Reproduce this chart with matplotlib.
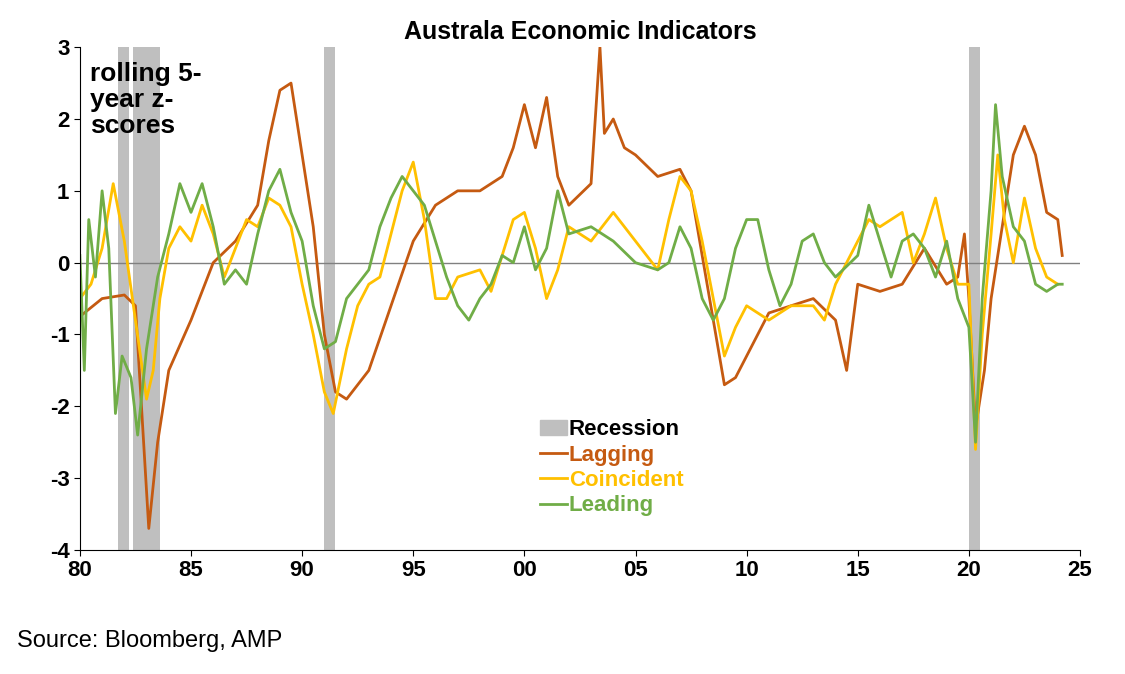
import matplotlib.pyplot as plt
from matplotlib.patches import Patch
from matplotlib.lines import Line2D

lag_x = [1980, 1981, 1982, 1982.5, 1983.1, 1983.5, 1984, 1985, 1986, 1987, 1988, 1988.5, 1989, 1989.5, 1990, 1990.5,
         1991, 1991.5, 1992, 1993, 1994, 1995, 1996, 1997, 1998, 1999, 1999.5, 2000, 2000.5, 2001, 2001.5, 2002,
         2003, 2003.4, 2003.6, 2004, 2004.5, 2005, 2006, 2007, 2007.5, 2008, 2008.5, 2009, 2009.5, 2010, 2011,
         2012, 2013, 2014, 2014.5, 2015, 2016, 2017, 2018, 2019, 2019.5, 2019.8, 2020, 2020.3, 2020.7, 2021,
         2021.5, 2022, 2022.5, 2023, 2023.5, 2024, 2024.2]
lag_y = [-0.75, -0.5, -0.45, -0.6, -3.7, -2.5, -1.5, -0.8, 0, 0.3, 0.8, 1.7, 2.4, 2.5, 1.5, 0.5,
         -1.0, -1.8, -1.9, -1.5, -0.6, 0.3, 0.8, 1.0, 1.0, 1.2, 1.6, 2.2, 1.6, 2.3, 1.2, 0.8,
         1.1, 3.0, 1.8, 2.0, 1.6, 1.5, 1.2, 1.3, 1.0, 0.1, -0.8, -1.7, -1.6, -1.3, -0.7,
         -0.6, -0.5, -0.8, -1.5, -0.3, -0.4, -0.3, 0.2, -0.3, -0.2, 0.4, -0.5, -2.3, -1.5, -0.5,
         0.5, 1.5, 1.9, 1.5, 0.7, 0.6, 0.1]

coin_x = [1980, 1980.5, 1981, 1981.5, 1982, 1982.5, 1983, 1983.3, 1983.6, 1984, 1984.5, 1985, 1985.5, 1986, 1986.5,
          1987, 1987.5, 1988, 1988.5, 1989, 1989.5, 1990, 1990.5, 1991, 1991.4, 1992, 1992.5, 1993, 1993.5, 1994,
          1994.5, 1995, 1995.5, 1996, 1996.5, 1997, 1998, 1998.5, 1999, 1999.5, 2000, 2000.5, 2001, 2001.5, 2002,
          2003, 2004, 2005, 2006, 2006.5, 2007, 2007.5, 2008, 2008.5, 2009, 2009.5, 2010, 2011, 2012, 2013,
          2013.5, 2014, 2015, 2015.5, 2016, 2017, 2017.5, 2018, 2018.5, 2019, 2019.5, 2020, 2020.3, 2020.6, 2021,
          2021.3, 2021.6, 2022, 2022.5, 2023, 2023.5, 2024]
coin_y = [-0.5, -0.3, 0.2, 1.1, 0.3, -0.8, -1.9, -1.5, -0.5, 0.2, 0.5, 0.3, 0.8, 0.4, -0.2,
          0.2, 0.6, 0.5, 0.9, 0.8, 0.5, -0.3, -1.0, -1.8, -2.1, -1.2, -0.6, -0.3, -0.2, 0.4,
          1.0, 1.4, 0.6, -0.5, -0.5, -0.2, -0.1, -0.4, 0.1, 0.6, 0.7, 0.2, -0.5, -0.1, 0.5,
          0.3, 0.7, 0.3, -0.1, 0.6, 1.2, 1.0, 0.3, -0.5, -1.3, -0.9, -0.6, -0.8, -0.6, -0.6,
          -0.8, -0.3, 0.3, 0.6, 0.5, 0.7, 0.0, 0.4, 0.9, 0.2, -0.3, -0.3, -2.6, -1.0, 0.4,
          1.5, 0.6, 0.0, 0.9, 0.2, -0.2, -0.3]

lead_x = [1980, 1980.2, 1980.4, 1980.7, 1981, 1981.3, 1981.6, 1981.9, 1982.3, 1982.6, 1983, 1983.5, 1984, 1984.5,
          1985, 1985.5, 1986, 1986.5, 1987, 1987.5, 1988, 1988.5, 1989, 1989.5, 1990, 1990.5, 1991, 1991.5, 1992,
          1993, 1993.5, 1994, 1994.5, 1995, 1995.5, 1996, 1996.5, 1997, 1997.5, 1998, 1998.5, 1999, 1999.5, 2000,
          2000.5, 2001, 2001.5, 2002, 2003, 2004, 2005, 2006, 2006.5, 2007, 2007.5, 2008, 2008.5, 2009, 2009.5,
          2010, 2010.5, 2011, 2011.5, 2012, 2012.5, 2013, 2013.5, 2014, 2015, 2015.5, 2016, 2016.5, 2017, 2017.5,
          2018, 2018.5, 2019, 2019.5, 2020, 2020.3, 2020.6, 2021, 2021.2, 2021.5, 2022, 2022.5, 2023, 2023.5,
          2024, 2024.2]
lead_y = [0.1, -1.5, 0.6, -0.2, 1.0, 0.2, -2.1, -1.3, -1.6, -2.4, -1.2, -0.2, 0.4, 1.1,
          0.7, 1.1, 0.5, -0.3, -0.1, -0.3, 0.4, 1.0, 1.3, 0.7, 0.3, -0.6, -1.2, -1.1, -0.5,
          -0.1, 0.5, 0.9, 1.2, 1.0, 0.8, 0.3, -0.2, -0.6, -0.8, -0.5, -0.3, 0.1, 0.0, 0.5,
          -0.1, 0.2, 1.0, 0.4, 0.5, 0.3, 0.0, -0.1, 0.0, 0.5, 0.2, -0.5, -0.8, -0.5, 0.2,
          0.6, 0.6, -0.1, -0.6, -0.3, 0.3, 0.4, 0.0, -0.2, 0.1, 0.8, 0.3, -0.2, 0.3, 0.4,
          0.2, -0.2, 0.3, -0.5, -0.9, -2.5, -0.5, 1.0, 2.2, 1.2, 0.5, 0.3, -0.3, -0.4,
          -0.3, -0.3]

recessions = [(1981.7, 1982.2), (1982.4, 1983.6), (1991.0, 1991.5), (2020.0, 2020.5)]
tick_labels = ['80', '85', '90', '95', '00', '05', '10', '15', '20', '25']

plt.rcParams['font.family'] = ['Liberation Sans', 'DejaVu Sans']
fig = plt.figure(figsize=(11.25, 6.74), dpi=100)
ax = fig.add_axes([0.071, 0.184, 0.889, 0.746])

for a, b in recessions:
    ax.axvspan(a, b, color='#bfbfbf', lw=0, zorder=0)
ax.axhline(0, color='#808080', lw=1, zorder=1)
ax.plot(lag_x, lag_y, color='#c55a11', lw=2)
ax.plot(coin_x, coin_y, color='#ffc000', lw=2)
ax.plot(lead_x, lead_y, color='#70ad47', lw=2)

ax.set_xlim(1980, 2025)
ax.set_ylim(-4, 3)
ax.set_xticks(range(1980, 2026, 5))
ax.set_xticklabels(tick_labels, fontsize=16, fontweight='bold')
ax.set_yticks(range(-4, 4))
ax.set_yticklabels([str(v) for v in range(-4, 4)], fontsize=16, fontweight='bold')
ax.tick_params(axis='both', direction='out', length=4)
for s in ['top', 'right']:
    ax.spines[s].set_visible(False)

ax.set_title('Australa Economic Indicators', fontsize=18, fontweight='bold', pad=6)
ax.text(0.01, 0.97, 'rolling 5-\nyear z-\nscores', transform=ax.transAxes, fontsize=19,
        fontweight='bold', va='top', linespacing=1.1)

handles = [Patch(color='#bfbfbf', label='Recession'),
           Line2D([], [], color='#c55a11', lw=2, label='Lagging'),
           Line2D([], [], color='#ffc000', lw=2, label='Coincident'),
           Line2D([], [], color='#70ad47', lw=2, label='Leading')]
leg = ax.legend(handles=handles, loc='upper left', bbox_to_anchor=(0.44, 0.30), frameon=False,
                fontsize=16, handlelength=1.2, handletextpad=0.1, labelspacing=0.2)
for t, c in zip(leg.get_texts(), ['black', '#c55a11', '#ffc000', '#70ad47']):
    t.set_color(c)
    t.set_fontweight('bold')

fig.text(0.015, 0.04, 'Source: Bloomberg, AMP', fontsize=17)
fig.savefig('out.png', dpi=100)
